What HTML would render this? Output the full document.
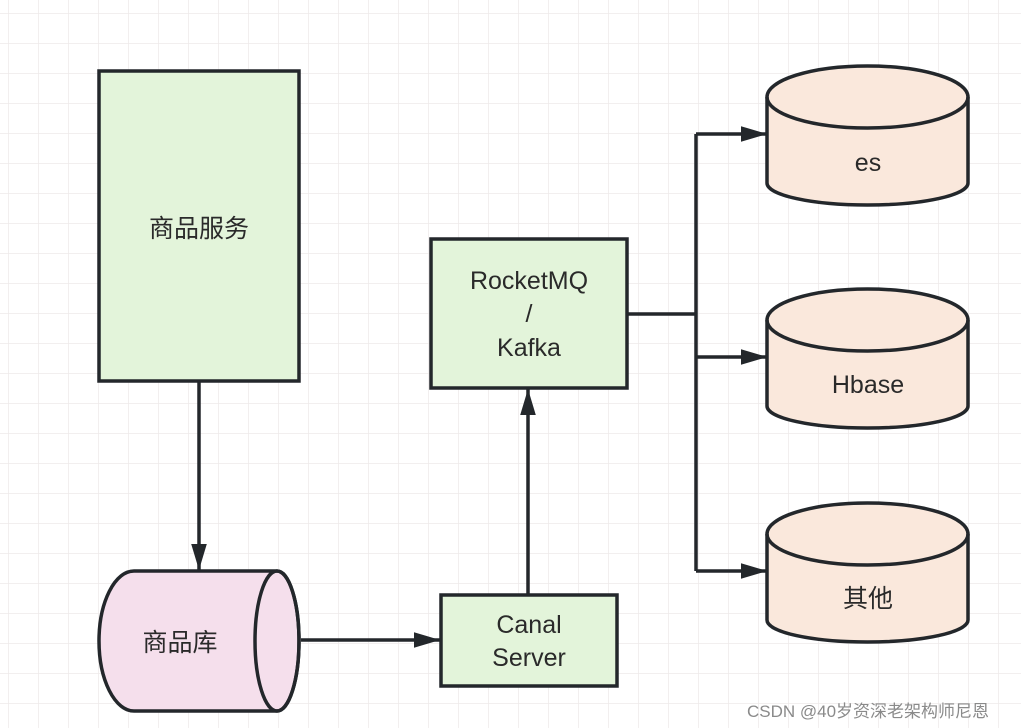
<!DOCTYPE html>
<html><head><meta charset="utf-8"><style>
body{margin:0;width:1021px;height:728px;overflow:hidden;background:#fff;}
svg{display:block}
text{font-family:"Liberation Sans","Noto Sans CJK SC",sans-serif;fill:#2a2a2a;font-size:25px;text-anchor:middle}
</style></head><body>
<svg width="1021" height="728" viewBox="0 0 1021 728">
<defs>
<pattern id="g" x="8" y="13" width="30" height="30" patternUnits="userSpaceOnUse">
<path d="M0 0V30M0 0H30" stroke="#eeeaea" stroke-width="1.5" fill="none"/>
</pattern>
<marker id="b" viewBox="0 0 10 6" refX="10" refY="3" markerWidth="26" markerHeight="16" markerUnits="userSpaceOnUse" orient="auto">
<path d="M0 0L10 3L0 6z" fill="#23272b"/>
</marker>
<symbol id="cyl" overflow="visible">
<path d="M0 32A100.5 31 0 0 1 201 32L201 118A100.5 22 0 0 1 0 118Z" fill="#fae8dc" stroke="#23272b" stroke-width="3.5"/>
<path d="M0 32A100.5 31 0 0 0 201 32" fill="none" stroke="#23272b" stroke-width="3.5"/>
</symbol>
</defs>
<rect width="1021" height="728" fill="url(#g)"/>
<g stroke="#23272b" stroke-width="3.5" fill="none">
<rect x="99" y="71" width="200" height="310" fill="#e3f4da"/>
<rect x="431" y="239" width="196" height="149" fill="#e3f4da"/>
<rect x="441" y="595" width="176" height="91" fill="#e3f4da"/>
<path d="M134 571H277A22 70 0 0 1 277 711H134A35 70 0 0 1 134 571Z" fill="#f5dfec"/>
<ellipse cx="277" cy="641" rx="22" ry="70"/>
<path d="M199 381V570" marker-end="url(#b)"/>
<path d="M301 640H440" marker-end="url(#b)"/>
<path d="M528 594V389" marker-end="url(#b)"/>
<path d="M627 314H696M696 134V571"/>
<path d="M696 134H767" marker-end="url(#b)"/>
<path d="M696 357H767" marker-end="url(#b)"/>
<path d="M696 571H767" marker-end="url(#b)"/>
</g>
<use href="#cyl" x="767" y="65"/>
<use href="#cyl" x="767" y="288"/>
<use href="#cyl" x="767" y="502"/>
<text x="199" y="237">商品服务</text>
<text x="180" y="651">商品库</text>
<text x="529" y="289">RocketMQ</text>
<text x="529" y="322">/</text>
<text x="529" y="356">Kafka</text>
<text x="529" y="633">Canal</text>
<text x="529" y="666">Server</text>
<text x="868" y="171">es</text>
<text x="868" y="393">Hbase</text>
<text x="868" y="607">其他</text>
<text x="868" y="717" style="font-size:17px;fill:#8a8a8a">CSDN @40岁资深老架构师尼恩</text>
</svg>
</body></html>
